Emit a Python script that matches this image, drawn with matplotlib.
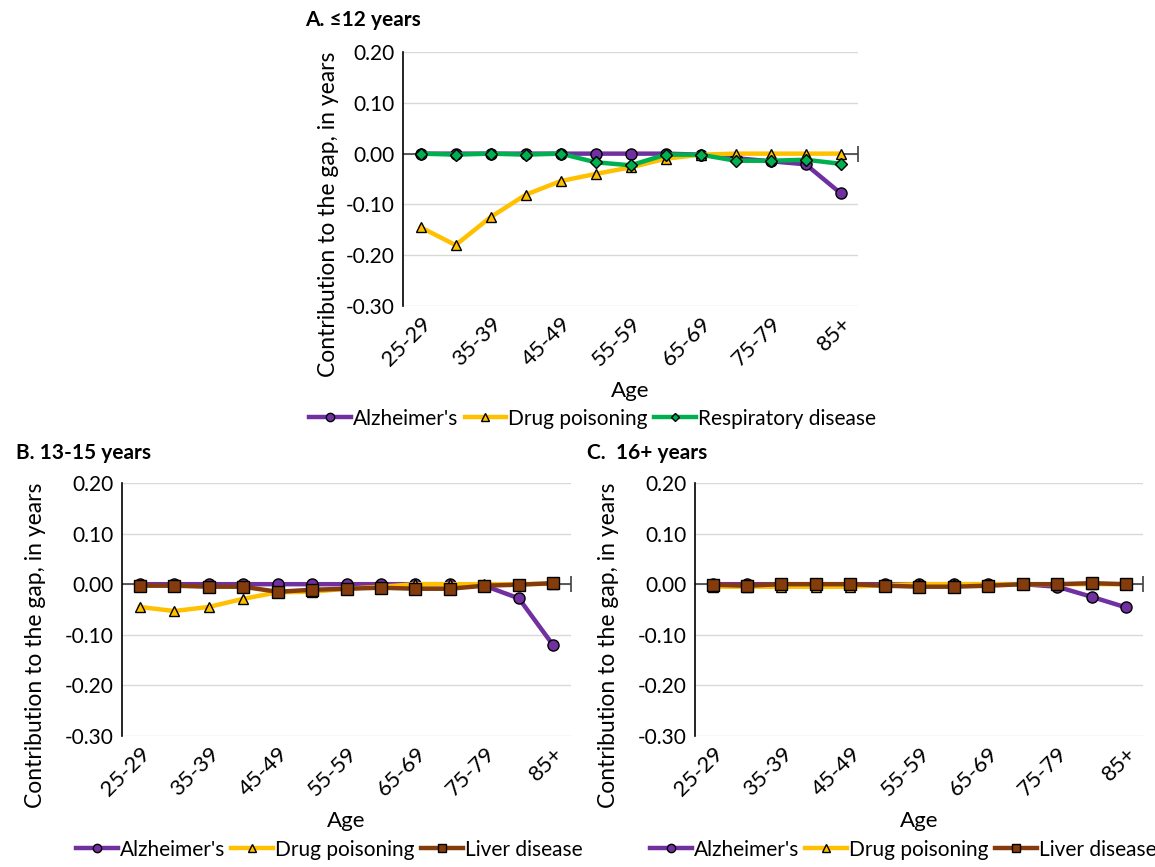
import numpy as np
import matplotlib.pyplot as plt

plt.rcParams['font.family'] = ['Lato', 'DejaVu Sans']

AGES = ['25-29', '30-34', '35-39', '40-44', '45-49', '50-54', '55-59',
        '60-64', '65-69', '70-74', '75-79', '80-84', '85+']

# Panel A: <=12 years
a_alz = [0.000, 0.000, 0.000, 0.000, 0.000, 0.000, 0.000, 0.000, -0.002, -0.009, -0.015, -0.021, -0.078]
a_drug = [-0.145, -0.180, -0.125, -0.081, -0.054, -0.040, -0.027, -0.010, -0.002, 0.000, 0.000, 0.000, 0.000]
a_resp = [0.000, -0.002, 0.000, -0.002, 0.000, -0.017, -0.023, -0.002, -0.002, -0.014, -0.014, -0.012, -0.020]

# Panel B: 13-15 years
b_alz = [0.000, 0.000, 0.000, 0.000, 0.000, 0.000, 0.000, 0.000, 0.000, 0.000, -0.003, -0.028, -0.121]
b_drug = [-0.045, -0.053, -0.045, -0.029, -0.016, -0.015, -0.009, -0.005, 0.000, 0.000, 0.000, 0.000, 0.001]
b_liver = [-0.003, -0.003, -0.005, -0.005, -0.015, -0.011, -0.009, -0.007, -0.009, -0.009, -0.003, -0.001, 0.002]

# Panel C: 16+ years
c_alz = [0.000, 0.000, 0.000, 0.000, 0.000, 0.000, 0.000, 0.000, 0.000, 0.000, -0.005, -0.025, -0.046]
c_drug = [-0.005, -0.005, -0.005, -0.005, -0.005, -0.002, 0.000, 0.000, 0.000, 0.000, 0.000, 0.000, 0.000]
c_liver = [-0.001, -0.003, 0.000, 0.000, 0.000, -0.003, -0.005, -0.005, -0.003, 0.000, 0.000, 0.002, 0.000]

YTICKS = [0.20, 0.10, 0.00, -0.10, -0.20, -0.30]

STYLE = {
    "Alzheimer's": dict(color='#7030A0', marker='o', ms=8),
    'Drug poisoning': dict(color='#FFC000', marker='^', ms=7),
    'Respiratory disease': dict(color='#00B050', marker='D', ms=6),
    'Liver disease': dict(color='#843C0C', marker='s', ms=8),
}

FS = 15


def draw_panel(fig, rect, title, series, title_xy, legend_xy, ylab_xy):
    ax = fig.add_axes(rect)
    x = np.arange(len(AGES))
    ax.set_xlim(-0.5, len(AGES) - 0.5)
    ax.set_ylim(-0.30, 0.20)
    ax.set_yticks(YTICKS)
    ax.set_yticklabels([f'{v:.2f}' for v in YTICKS], fontsize=FS)
    ax.yaxis.grid(True, color='#D9D9D9', lw=1.0)
    ax.set_axisbelow(True)
    ax.tick_params(axis='y', length=0, pad=6)
    ax.set_xticks(x[::2])
    ax.set_xticklabels(AGES[::2], rotation=45, ha='right', rotation_mode='anchor', fontsize=16)
    ax.tick_params(axis='x', length=0, pad=5)
    for s in ['top', 'right', 'bottom']:
        ax.spines[s].set_visible(False)
    ax.spines['left'].set_color('black')
    ax.spines['left'].set_linewidth(1.2)
    ax.axhline(0, color='#404040', lw=1.2, zorder=1)
    ax.plot([len(AGES) - 0.5], [0], marker='|', ms=12, color='#404040', mew=1.2, clip_on=False)

    handles = []
    for name, vals in series:
        st = STYLE[name]
        h, = ax.plot(x, vals, color=st['color'], lw=3.2, marker=st['marker'], ms=st['ms'],
                     mfc=st['color'], mec='black', mew=1.0, label=name, zorder=3)
        handles.append(h)

    ax.set_ylabel('Contribution to the gap, in years', fontsize=16.5, va='center')
    ax.yaxis.set_label_coords(*ylab_xy)
    ax.set_xlabel('Age', fontsize=16, labelpad=8)
    fig.text(title_xy[0], title_xy[1], title, fontsize=FS, fontweight='bold', ha='left', va='center')
    fig.legend(handles=handles, loc='center', bbox_to_anchor=legend_xy, ncol=3, frameon=False,
               fontsize=FS, handlelength=2.0, handletextpad=0.1, columnspacing=0.3,
               borderaxespad=0, markerscale=0.75)
    return ax


fig = plt.figure(figsize=(11.55, 8.67), dpi=100)

draw_panel(fig, [0.349, 0.647, 0.394, 0.293], 'A. \u226412 years',
           [("Alzheimer's", a_alz), ('Drug poisoning', a_drug), ('Respiratory disease', a_resp)],
           (0.264, 0.977), (0.513, 0.517), (-0.165, 0.36))
draw_panel(fig, [0.106, 0.151, 0.388, 0.292], 'B. 13-15 years',
           [("Alzheimer's", b_alz), ('Drug poisoning', b_drug), ('Liver disease', b_liver)],
           (0.014, 0.477), (0.285, 0.020), (-0.194, 0.36))
draw_panel(fig, [0.602, 0.151, 0.388, 0.292], 'C.  16+ years',
           [("Alzheimer's", c_alz), ('Drug poisoning', c_drug), ('Liver disease', c_liver)],
           (0.508, 0.477), (0.782, 0.020), (-0.194, 0.36))

fig.savefig('out.png', dpi=100)
